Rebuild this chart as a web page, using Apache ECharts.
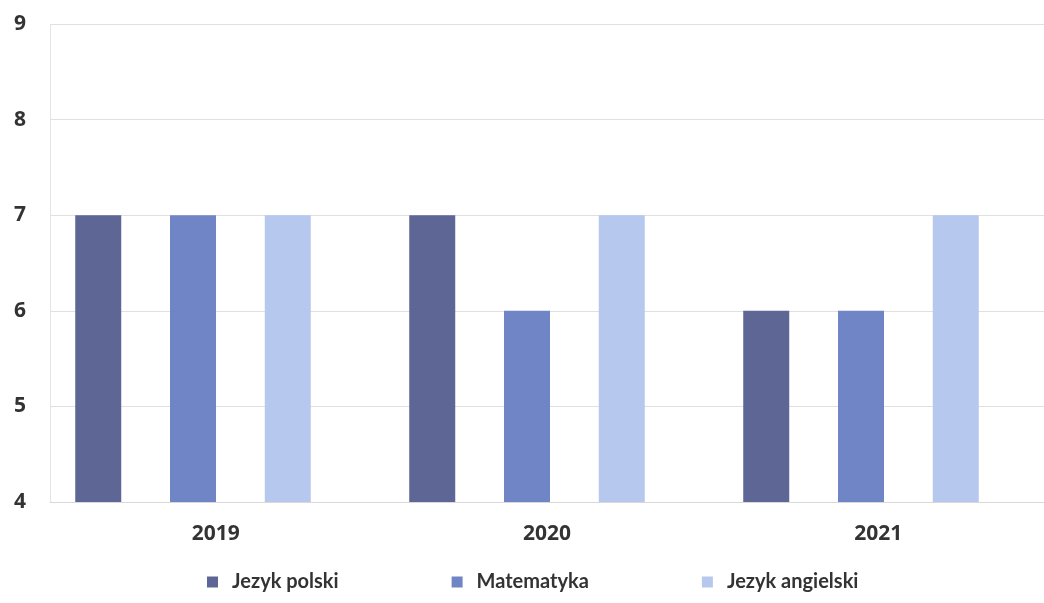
<!DOCTYPE html>
<html>
<head>
<meta charset="utf-8">
<script src="https://cdn.jsdelivr.net/npm/echarts@6/dist/echarts.min.js"></script>
<style>html,body{margin:0;padding:0;background:#fff}#c{width:1044px;height:603px}</style>
</head>
<body>
<div id="c"></div>
<script>
const categories = ['2019', '2020', '2021'];
const seriesNames = ['Jezyk polski', 'Matematyka', 'Jezyk angielski'];
const polski = [7, 7, 6];
const matematyka = [7, 6, 6];
const angielski = [7, 7, 7];
const yTicks = [4, 5, 6, 7, 8, 9];
const colors = ['#5e6696', '#7085c6', '#b6c8ed'];

const chart = echarts.init(document.getElementById('c'));
const font = '"Open Sans", Lato, sans-serif';
chart.setOption({
  animation: false,
  backgroundColor: '#fff',
  color: colors,
  grid: [
    {left: 50, right: -4, top: 24, bottom: 101},
    {left: 26, right: 16, top: 24, bottom: 101}
  ],
  legend: {
    bottom: 6,
    left: 202,
    itemWidth: 11,
    itemHeight: 11,
    itemGap: 113,
    icon: 'rect',
    data: seriesNames,
    textStyle: {fontFamily: 'Lato, sans-serif', fontWeight: 'bold', fontSize: 20, color: '#333', padding: [0, 0, 0, 9]}
  },
  xAxis: [
    {type: 'category', gridIndex: 0, data: categories,
     axisLine: {show: true, lineStyle: {color: '#d9d9d9'}}, axisTick: {show: false},
     axisLabel: {margin: 22, fontFamily: font, fontWeight: 'bold', fontSize: 21, color: '#333'}},
    {type: 'category', gridIndex: 1, data: categories, show: false}
  ],
  yAxis: [
    {type: 'value', gridIndex: 0, min: yTicks[0], max: yTicks[yTicks.length - 1], interval: 1,
     axisLine: {show: true, lineStyle: {color: '#e3e3e3'}}, axisTick: {show: false},
     splitLine: {lineStyle: {color: '#e0e0e0'}},
     axisLabel: {margin: 24, fontFamily: font, fontWeight: 'bold', fontSize: 21, color: '#333'}},
    {type: 'value', gridIndex: 1, min: yTicks[0], max: yTicks[yTicks.length - 1], interval: 1, show: false,
     splitLine: {show: false}}
  ],
  series: [
    {name: seriesNames[0], type: 'bar', xAxisIndex: 1, yAxisIndex: 1, data: polski, barWidth: 46, barGap: '106%'},
    {name: seriesNames[1], type: 'bar', xAxisIndex: 1, yAxisIndex: 1, data: matematyka, barWidth: 46, barGap: '106%'},
    {name: seriesNames[2], type: 'bar', xAxisIndex: 1, yAxisIndex: 1, data: angielski, barWidth: 46, barGap: '106%'}
  ]
});
</script>
</body>
</html>
